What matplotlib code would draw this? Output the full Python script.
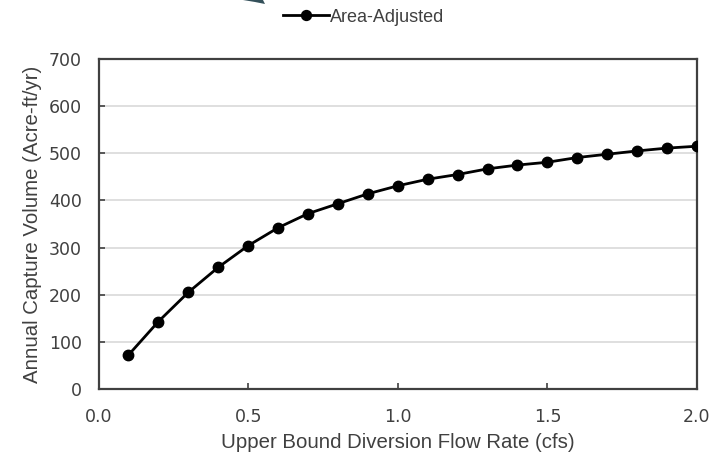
import matplotlib
matplotlib.use('Agg')
import matplotlib.pyplot as plt
from matplotlib.patches import Polygon

plt.rcParams['font.family'] = ['DejaVu Sans']
regular = ['Liberation Sans', 'DejaVu Sans']

# data
flow_cfs = [0.1, 0.2, 0.3, 0.4, 0.5, 0.6, 0.7, 0.8, 0.9, 1.0,
            1.1, 1.2, 1.3, 1.4, 1.5, 1.6, 1.7, 1.8, 1.9, 2.0]
capture = [72, 143, 205, 258, 304, 342, 372, 393, 414, 431,
           445, 455, 467, 475, 481, 491, 498, 505, 511, 515]
series_name = 'Area-Adjusted'
x_ticks = [0.0, 0.5, 1.0, 1.5, 2.0]
y_ticks = [0, 100, 200, 300, 400, 500, 600, 700]

W, H = 727, 457
fig = plt.figure(figsize=(W / 100, H / 100), dpi=100)
ax = fig.add_axes([98.5 / W, 1 - 389 / H, (697 - 98.5) / W, (389 - 59) / H])

txt = '#404040'
ax.plot(flow_cfs, capture, color='black', lw=2, marker='o', ms=7.5,
        label=series_name, zorder=3)

ax.set_xlim(0, 2.0)
ax.set_ylim(0, 700)
ax.set_xticks(x_ticks)
ax.set_xticklabels(['%.1f' % v for v in x_ticks])
ax.set_yticks(y_ticks)
ax.yaxis.grid(True, color='#d9d9d9', lw=1.2)
ax.set_axisbelow(True)
for s in ax.spines.values():
    s.set_color('#404040')
    s.set_linewidth(1.6)
ax.tick_params(direction='in', length=4, width=1.2, color='#404040',
               labelcolor=txt, labelsize=12.5)
ax.tick_params(axis='x', top=False, pad=14)
ax.tick_params(axis='y', right=False, pad=12)
ax.set_xlabel('Upper Bound Diversion Flow Rate (cfs)', fontsize=14.7,
              color=txt, labelpad=5, family=regular)
ax.set_ylabel('Annual Capture Volume (Acre-ft/yr)', fontsize=14.7,
              color=txt, labelpad=5, family=regular)

leg = fig.legend(loc='center', bbox_to_anchor=(364 / W, 1 - 17 / H),
                 frameon=False, handlelength=2.5, handletextpad=0.1,
                 markerscale=0.95, prop={'family': regular, 'size': 13})
for t in leg.get_texts():
    t.set_color(txt)

# small cropped shape at the top edge of the original image
frag = Polygon([(243 / W, 1.0), (263 / W, 1.0), (265 / W, 1 - 4 / H),
                (255 / W, 1 - 2 / H)], closed=True,
               transform=fig.transFigure, color='#34505a', lw=0)
fig.patches.append(frag)

fig.savefig('out.png', dpi=100)
